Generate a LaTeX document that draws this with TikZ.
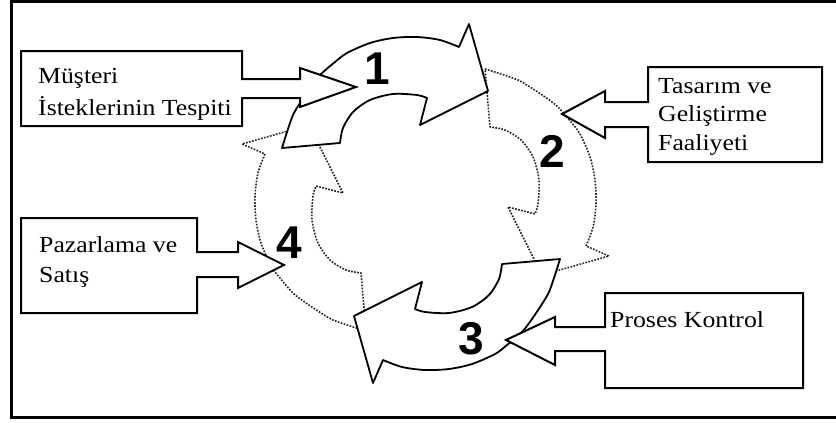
\documentclass[tikz,border=0pt]{standalone}
\usepackage{fontspec}
\setmainfont{Liberation Serif}
\newfontfamily\labelfont[FakeStretch=1.12]{Liberation Serif}
\newfontfamily\digitfont{Liberation Sans}

% One curved block arrow of the cycle (stage 1 position); the other
% stages are rotated copies of it about the centre of the ring.
\newcommand\ringarrow[1]{%
  \path[#1]
    plot[smooth] coordinates {(282,148) (287,132) (293,115) (300,103)
      (310,88) (320,75) (335,62) (347,53) (370,43) (393,38) (417,37)
      (440,40) (459,47)}
    -- (469,24) -- (488,91) -- (420,125)
    -- plot[smooth] coordinates {(427,98) (417,95) (393,94) (370,100)
      (353,112) (343,128) (340,143)}
    -- cycle;}

\begin{document}
\begin{tikzpicture}[x=1pt,y=-1pt,
  ring/.style={fill=white,line join=round},
  solidring/.style={ring,draw=black,line width=1.8pt},
  faintring/.style={ring,draw=black!85,line width=1.6pt,dash pattern=on 1.7pt off 1.4pt},
  callout/.style={draw=black,fill=white,line width=2pt,line join=miter},
  boxtext/.style={font=\labelfont\fontsize{23}{#1}\selectfont,align=left,anchor=base west,inner sep=0pt},
  boxtext/.default=30,
  stagenum/.style={font=\digitfont\bfseries\fontsize{46}{46}\selectfont,inner sep=0pt}]
\useasboundingbox (0,0) rectangle (836,423);

% outer frame (open on the right)
\draw[line width=3pt] (836,1.5) -- (11,1.5) -- (11,417) -- (836,417);

% stages drawn behind (dotted)
\begin{scope}[shift={(2,8)},rotate around={-90:(426,205)}]
  \ringarrow{faintring}
\end{scope}
\begin{scope}[shift={(-3,-18)},rotate around={90:(426,205)}]
  \ringarrow{faintring}
\end{scope}

% stages drawn in front (solid)
\ringarrow{solidring}
\begin{scope}[shift={(-10,-3)},rotate around={180:(426,205)}]
  \ringarrow{solidring}
\end{scope}

% input boxes with their block arrows
\draw[callout] (21,51) -- (242,51) -- (242,79) -- (300,79) -- (300,68)
  -- (356,87) -- (300,107) -- (300,98) -- (242,98) -- (242,126) -- (21,126) -- cycle;
\draw[callout] (648,67) -- (822,67) -- (822,162) -- (648,162) -- (648,127)
  -- (605,127) -- (605,138) -- (562,114) -- (605,91) -- (605,102) -- (648,102) -- cycle;
\draw[callout] (21,218) -- (197,218) -- (197,252) -- (238,252) -- (238,242)
  -- (284,265) -- (238,288) -- (238,277) -- (197,277) -- (197,313) -- (21,313) -- cycle;
\draw[callout] (605,293) -- (803,293) -- (803,388) -- (605,388) -- (605,351)
  -- (555,351) -- (555,365) -- (506,340) -- (555,317) -- (555,327) -- (605,327) -- cycle;

% box labels (anchored at the baseline of their last line)
\node[boxtext=32] (need) at (38,115) {Müşteri\\İsteklerinin Tespiti};
\node[boxtext=28.5] (design) at (658,150) {Tasarım ve\\Geliştirme\\Faaliyeti};
\node[boxtext] (sales) at (39,282) {Pazarlama ve\\Satış};
\node[boxtext] (process) at (610,327) {Proses Kontrol};

% stage numbers
\node[stagenum] (n1) at (377,69) {1};
\node[stagenum] (n2) at (552,151) {2};
\node[stagenum] (n3) at (471,339) {3};
\node[stagenum] (n4) at (289,243) {4};
\end{tikzpicture}
\end{document}
